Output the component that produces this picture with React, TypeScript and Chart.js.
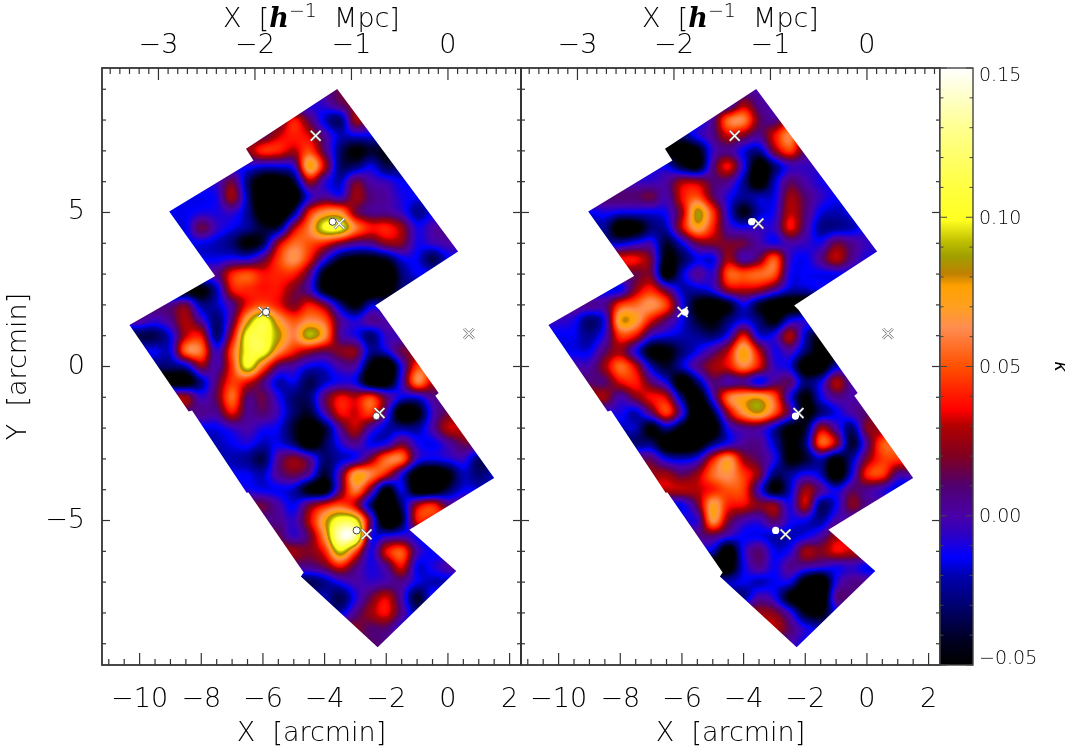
import React, { useEffect, useRef } from "react";
import { Chart, registerables } from "chart.js";
Chart.register(...registerables);

const FONT = '"DejaVu Sans"';
const WEIGHT = "200";

const X_RANGE = [-11.22, 2.37];
const Y_RANGE = [-9.69, 9.69];
const MPC_RANGE = [-3.585, 0.757];
const KAPPA_RANGE = [-0.05, 0.15];

const xMajor = [-10, -8, -6, -4, -2, 0, 2];
const xMinor = [-11, -10.5, -9.5, -9, -8.5, -7.5, -7, -6.5, -5.5, -5, -4.5, -3.5, -3, -2.5, -1.5, -1, -0.5, 0.5, 1, 1.5];
const yMajor = [-5, 0, 5];
const yMinor = [-9, -8, -7, -6, -4, -3, -2, -1, 1, 2, 3, 4, 6, 7, 8, 9];
const mpcMajor = [-3, -2, -1, 0];
const mpcMinor = [-3.5, -3.4, -3.3, -3.2, -3.1, -2.9, -2.8, -2.7, -2.6, -2.5, -2.4, -2.3, -2.2, -2.1, -1.9, -1.8, -1.7, -1.6, -1.5, -1.4, -1.3, -1.2, -1.1, -0.9, -0.8, -0.7, -0.6, -0.5, -0.4, -0.3, -0.2, -0.1, 0.1, 0.2, 0.3, 0.4, 0.5, 0.6, 0.7];
const kappaTicks = [-0.05, 0.0, 0.05, 0.1, 0.15];
const kappaTickLabels = ["\u22120.05", "0.00", "0.05", "0.10", "0.15"];
const kappaMinor = [-0.04, -0.03, -0.02, -0.01, 0.01, 0.02, 0.03, 0.04, 0.06, 0.07, 0.08, 0.09, 0.11, 0.12, 0.13, 0.14];

// colour table: kappa (in 0.01) and the colour at that level
const cmapLevels = [-5, -4.2, -3, -2, -1.4, -0.56, 0, 1, 2, 3, 3.55, 4.15, 5, 6.3, 7, 7.7, 8.1, 8.7, 9.2, 9.9, 11, 13, 15];
const cmapColors = [
  [0, 0, 0], [0, 0, 32], [0, 0, 112], [0, 0, 176], [0, 0, 255], [48, 0, 192], [74, 0, 168], [80, 0, 112], [128, 0, 32], [176, 0, 0],
  [255, 0, 0], [255, 32, 0], [255, 80, 0], [255, 140, 80], [255, 160, 32], [255, 160, 0], [192, 128, 0], [160, 160, 0], [192, 192, 0], [255, 255, 32],
  [255, 255, 64], [255, 255, 144], [255, 255, 255],
];

const footprintX = [-3.59, 0.33, -2.36, -2.22, -0.3, -0.41, 1.5, -1.25, 0.27, -2.28, -4.77, -4.68, -6.47, -6.53, -8.3, -8.41, -10.33, -7.55, -9.04, -6.31, -6.55];
const footprintY = [9.01, 3.73, 1.98, 1.84, -0.86, -0.95, -3.62, -5.3, -6.64, -9.11, -6.82, -6.69, -4.09, -4.1, -1.43, -1.46, 1.35, 2.94, 5.03, 6.69, 7.07];

const crossX = [-4.29, -3.52, -5.98, 0.68, -2.22, -2.64];
const crossY = [7.49, 4.64, 1.77, 1.07, -1.51, -5.45];
const circleX = [-3.74, -5.9, -2.32, -2.96];
const circleY = [4.7, 1.77, -1.61, -5.32];

// each row: y, x of first value, then kappa (in 0.01) every 0.5 arcmin
const kappaLeft = [
  [9, -4.5, 0, 0.5, 1.5, 1],
  [8.5, -4.5, -1, -0.5, 1, 2],
  [8, -5.5, 0.8, 3.8, 1.2, -1.8, -3, 2.5, 1],
  [7.5, -6, 1, 3, 4, 3.2, 0.3, -2, -1.5, -1.5],
  [7, -6.5, 2.2, 4.2, 4, 2.8, 4.8, 1, -3, -5, -4, -4.5],
  [6.5, -6.5, -1, -1.5, -1.5, -0.5, 7.5, 3, -3, -3, -1.5, -3.5, -3],
  [6, -7.5, -0.5, 1.5, -3, -6, -6, -4, 2.5, -0.5, -2, 1.5, 0, -0.5, -1.5],
  [5.5, -8, -1.5, -1, 2.5, -2.5, -7, -7, -6, -1, 0.5, -0.5, 2.5, 0.8, 0.2, -1, -1.5],
  [5, -9, -1.5, -1.5, -1, -1, -0.5, -2.5, -6, -7, -3, 3.8, 6.5, 6.5, 2, 0.5, 0.5, -0.5, -2.5, -1.5],
  [4.5, -8.5, -1.5, 1.5, -0.5, -1.5, -2.5, -4, -3.5, 2.5, 6, 10, 10.2, 6, 3.8, 4, 2.5, -1, 0, 0.5],
  [4, -8, -1.5, -2, -3, -5, -3.5, 2.5, 5.5, 5, 4, 2, 0.5, 0.5, 2.2, 2, -1, -0.5, 0],
  [3.5, -7.5, -1.5, -1, -1, 1, 4.5, 6.5, 4, -0.5, -4, -5, -5, -4, -1.5, -1.5, -3.5, -1.5],
  [3, -7.5, 0.5, 4, 5, 3.8, 4.2, 4, 1, -5, -7, -7, -7, -7, -3, -1.5],
  [2.5, -8, -5, -2, 3.6, 4.2, 3.8, 3.8, 2, 0, -5, -7, -7, -7, -6, -3],
  [2, -9, 0.5, 1.5, -2.5, -2, 0.5, 3.8, 5, 3.8, 2, 3.8, 1.8, -2.5, -5, -2, -2],
  [1.5, -10, 0.3, -0.5, 0.5, 2.8, 0, -3, 1, 7.5, 10.8, 7, 5, 6.2, 5.2, 0.5, -1, 0.5, 0],
  [1, -9.5, -3.5, -1.5, 3, 3.5, -3, 3, 10.5, 11, 8.5, 6, 9, 6.5, 0.5, -1, -3, -0.5],
  [0.5, -9, -1.5, 5.5, 5.5, -0.5, 5, 10.5, 10.8, 6.5, 4, 2.5, 1.5, 2, 2, -2.5, -1.5, 1.5],
  [0, -9, -3, -2, 2, 0, 4.5, 10, 5.5, 1, 0, -1.5, -1.5, 0, 0, -5, -7, -1, 4.5],
  [-0.5, -8.5, -5.5, -2.5, 1, 4.5, 3.6, 1, -2, -1.5, -3.5, -2, -1, -1.5, -6, -6, -0.5, 6, 3],
  [-1, -8.5, 2.5, -0.5, 1.5, 5.5, 1, 1.5, -1, -3, -3, 1, 3.6, 3, 4.5, 1, -1.5, -1.5, 0.5],
  [-1.5, -8, 0.5, 0.5, 3.6, 0.5, 1, -0.5, -3, -4, 0, 3.6, 3.2, 4.5, 0, -6, -5, -0.5, 1.5],
  [-2, -7.5, -1.5, -0.5, 0, -1, -1.5, -4, -6, -4, 0.5, 3, 0, -2, -2.5, -2.5, 0, 3],
  [-2.5, -7.5, -2, -1.5, -1, -2, -1.5, -3, -6, -3.5, -1, 0.5, -1.5, -1, 1.5, -1, -1.5, 0, 1.5],
  [-3, -7, -2, -2.5, -3.5, 0.5, 2.2, 0.5, -3, -2, -1, 2, 5.5, 5.5, -0.5, -1.5, -1, -0.5, -3],
  [-3.5, -6.5, -1.5, -2, 0.5, 1.5, 0, -4, 0.5, 7, 6, 3.5, -1, -6, -7, -5, -2, -3, -2],
  [-4, -6.5, -1, -1.5, -1.5, -2, -5, -5.5, 1, 6, 1.5, -5, -1.5, -6, -6, -3.5, -1.5],
  [-4.5, -6, 1.5, 0, -1.5, 1.5, 3.6, 5, 3, -3, -7, -3, 2.5, 4, 1],
  [-5, -5.5, 0.5, -0.5, 3, 7.5, 11, 10, 1, -7, -4, 3.6],
  [-5.5, -5.5, 1.5, -0.5, 1.5, 6.5, 14, 13, -0.5, -1, -0.5, -1],
  [-6, -5, 2.5, 2, 4, 9.5, 5, -1, 3.5, 5, 0, -1.5],
  [-6.5, -4.5, 0.5, 1.5, 3.6, 1, -1, 0.5, 3.5, -1.5, -1, 0],
  [-7, -4.5, -3.5, -2.5, -1, 0, -0.5, 0, 0.5, -1.5, -2],
  [-7.5, -4, -2, -3.5, -1, 1.5, 3.2, 0, -4, -1],
  [-8, -3.5, -2, 0.5, 2.5, 3.6, 0.5, -2.5],
  [-8.5, -3, 2, 1, 1, -1],
  [-9, -2.5, 1.2, 0.5],
];

const kappaRight = [
  [9, -3.5, 0],
  [8.5, -4.5, -0.5, 2.6, 0.5, 0],
  [8, -5.5, -1.5, 0.5, 5.5, 6, 1.5, 0.5, 3],
  [7.5, -6, -3, -1, 0.5, 3.2, 2, 0.5, 3.5, 6, 1],
  [7, -6.5, -5, -6, -5, -0.5, 0.5, -1.5, -2.5, 2, 4.5, 1],
  [6.5, -6.5, -1.5, -4, -5, 0.5, 3.6, -1, -6, -3, -0.5, -0.5, -0.5],
  [6, -7.5, -0.5, -0.5, 0.2, 2.5, 2.5, 1, 0.5, -2.5, -6, -2, 1, 0, -1],
  [5.5, -8, 1, 1, 1.5, 0, 3.6, 5, 1.5, -1, -2.5, -2, -1.5, 2.5, 1, -0.5, -1.4],
  [5, -9, -1.5, -1, -1.5, -1.5, -1.5, -1, 2.5, 8.5, 4.5, -1, -4.5, -2, -1, 3, 1, -1.5, -2, -1.5],
  [4.5, -8.5, -2.5, -6, -5.5, -3, -2, 3, 7, 4, 0, -1, -0.5, -0.5, 3.6, 0.5, -2.5, -2.5, -2, -1],
  [4, -8, -2, -1, -0.5, -4, -1.5, 1.5, 2, 1.8, 1.5, 0, -1, 0, -0.5, -1, 1.5, 0.5, -0.5],
  [3.5, -7.5, 3.6, 1.5, -5, -3.5, -1.5, -1.5, 2.5, 0, 1.5, 5, -0.5, -1.4, 0.5, 3, 0.5, -1],
  [3, -7.5, 1.5, 1.5, -5.5, -2, 0.3, -0.5, 5, 5, 5.5, 5, -1, -1.4, -1.5, -1.4],
  [2.5, -8, -1.4, 2.3, 4, 1, -2, -2, -1, 2.5, 3, 2.5, 0.5, -2, -2, -1.5],
  [2, -9, 0.5, 0.5, 4.5, 5.5, 6.5, 4.5, -1, -5, -6, -4.5, -1.4, -4, -6, -6],
  [1.5, -10, -0.5, -1, -3, -1, 7.5, 7, 3.6, 1, -1.4, -4, -5, -3, -1.5, -3, -5, -1.5, -1],
  [1, -9.5, -1.5, -2.5, -0.5, 4.5, 3.6, -0.5, -1.5, -2, -2.5, -3, -1, 3.6, -1.4, -1, 2.8, -2, -5],
  [0.5, -9, -1.5, 1, 2.5, -1, -5, -5, -3, -1.4, 0.5, 3, 7.5, 3, -1, 0, -3, -5.5],
  [0, -9, 0, 2.5, 5.5, 3, -2, -4, -2, 0.5, 2.5, 3.5, 6, 3.5, -0.5, -1.5, -6, -6, -2],
  [-0.5, -8.5, 1, 3.5, 4, 1, -1.5, -6, -3, 0.8, 0, 0.5, -1.5, 0.5, 1, -3, -1.5, 2.8, 0],
  [-1, -8.5, 2.5, 0, 2, 3.6, 3, -3, -6, -0.5, 5.5, 7, 7.5, 5, -1, -5, -1.5, 0.5, 0],
  [-1.5, -8, -1, -2, 1, 4.5, -0.5, -7, -4, 2.5, 6.5, 8, 5, 0.5, -5, -3, -1.5, 0, 1],
  [-2, -7.5, -2, -5, -2.5, -5, -7, -6, -1, 0.5, 0.5, -2, -5, -4, 2.5, 0, -3, 2],
  [-2.5, -7, -3, -6, -7, -6, -3, -1, 0.3, 0.5, -2, -5, -3, 5, 2.5, -4, 0.5, 5],
  [-3, -7, 1, -1.5, -2, -1, 3.6, 6.5, 2.5, 1, -1, -5, -4, -2, -5, -2.5, 2, 4.5, 4.5],
  [-3.5, -6.5, 2.5, 1.2, 2.5, 5.5, 6.5, 4.5, 2, -3, -2.5, -1, -2, -6, -1.5, 4, 4.5, 0.5],
  [-4, -6.5, 3, 3, 3, 4, 5, 4.5, -0.5, -5, -2, 2.5, 0.5, -1.4, 1, 0.5, -0.5, -2],
  [-4.5, -6, -1.4, 1.5, 7, 4, 3.5, 2, 2.2, -1, 3, -3, -1.4, 2, 0.5],
  [-5, -5.5, -0.5, 6.5, 2, 0, -0.5, 1.2, -1, -1.4, -2.5, 0],
  [-5.5, -5.5, 0.5, 1, -0.5, -1.4, -1.5, -2, -2, -1.4, 0, 2.5],
  [-6, -5, -2, -6, -1, 1, -1.5, -1, 2.5, 2, 3.5, 3],
  [-6.5, -4.5, -6, -1.5, 0.5, -1.2, 0.5, 0, -0.5, -1, -0.5, -1.5],
  [-7, -4.5, -2, -1.5, -2, -1.5, -1.5, -5.5, -7, -1, 0.5],
  [-7.5, -4, -2.5, 0, -1, -5, -7, -7, 0.5, 0.5],
  [-8, -3.5, 2.5, 2, -0.5, -4.5, -5, -1.5],
  [-8.5, -3, 3, 1, -1, -2],
  [-9, -2.5, 0, -1.4],
];

const GRID_X0 = -10.5;
const GRID_STEP = 0.5;
const GRID_COLS = 26;

function cellsOf(rows: number[][]) {
  const out: { x: number; y: number; v: number }[] = [];
  rows.forEach((r) => {
    for (let i = 2; i < r.length; i++) out.push({ x: r[1] + (i - 2) * GRID_STEP, y: r[0], v: r[i] });
  });
  return out;
}

function matrixOf(rows: number[][]) {
  return rows.map((r) => {
    const line = new Array(GRID_COLS).fill(0);
    const first = Math.round((r[1] - GRID_X0) / GRID_STEP);
    const n = r.length - 2;
    for (let i = 0; i < GRID_COLS; i++) {
      const k = Math.min(n - 1, Math.max(0, i - first));
      line[i] = r[k + 2];
    }
    return line;
  });
}

function cm(a: number, b: number, c: number, d: number, t: number) {
  return 0.5 * (2 * b + (c - a) * t + (2 * a - 5 * b + 4 * c - d) * t * t + (3 * b - a - 3 * c + d) * t * t * t);
}

function colorAt(v: number) {
  const L = cmapLevels;
  if (v <= L[0]) return cmapColors[0];
  if (v >= L[L.length - 1]) return cmapColors[L.length - 1];
  let i = 0;
  while (L[i + 1] < v) i++;
  const t = (v - L[i]) / (L[i + 1] - L[i]);
  const a = cmapColors[i];
  const b = cmapColors[i + 1];
  return [a[0] + (b[0] - a[0]) * t, a[1] + (b[1] - a[1]) * t, a[2] + (b[2] - a[2]) * t];
}

const fieldPlugin = {
  id: "field",
  beforeDatasetsDraw(chart: any, _a: any, opts: any) {
    if (!opts.rows) return;
    const { left, top, right, bottom } = chart.chartArea;
    const xs = chart.scales.x;
    const ys = chart.scales.y;
    const w = Math.round(right - left);
    const h = Math.round(bottom - top);
    const off = document.createElement("canvas");
    off.width = w;
    off.height = h;
    const octx = off.getContext("2d")!;
    const img = octx.createImageData(w, h);
    const M = matrixOf(opts.rows);
    const y0 = opts.rows[0][0];
    const nr = M.length;
    const get = (j: number, i: number) => M[Math.max(0, Math.min(nr - 1, j))][Math.max(0, Math.min(GRID_COLS - 1, i))];
    for (let py = 0; py < h; py++) {
      const gy = (y0 - ys.getValueForPixel(top + py + 0.5)) / GRID_STEP;
      const j = Math.floor(gy);
      const ty = gy - j;
      for (let px = 0; px < w; px++) {
        const gx = (xs.getValueForPixel(left + px + 0.5) - GRID_X0) / GRID_STEP;
        const i = Math.floor(gx);
        const tx = gx - i;
        const r0 = cm(get(j - 1, i - 1), get(j - 1, i), get(j - 1, i + 1), get(j - 1, i + 2), tx);
        const r1 = cm(get(j, i - 1), get(j, i), get(j, i + 1), get(j, i + 2), tx);
        const r2 = cm(get(j + 1, i - 1), get(j + 1, i), get(j + 1, i + 1), get(j + 1, i + 2), tx);
        const r3 = cm(get(j + 2, i - 1), get(j + 2, i), get(j + 2, i + 1), get(j + 2, i + 2), tx);
        const c = colorAt(cm(r0, r1, r2, r3, ty));
        const o = (py * w + px) * 4;
        img.data[o] = c[0];
        img.data[o + 1] = c[1];
        img.data[o + 2] = c[2];
        img.data[o + 3] = 255;
      }
    }
    octx.putImageData(img, 0, 0);
    const ctx = chart.ctx;
    ctx.save();
    ctx.beginPath();
    footprintX.forEach((x, k) => {
      const X = xs.getPixelForValue(x);
      const Y = ys.getPixelForValue(footprintY[k]);
      if (k === 0) ctx.moveTo(X, Y);
      else ctx.lineTo(X, Y);
    });
    ctx.closePath();
    ctx.clip();
    ctx.filter = "blur(0.7px)";
    ctx.drawImage(off, left, top);
    ctx.filter = "none";
    ctx.restore();
  },
};

function tick(ctx: any, x0: number, y0: number, x1: number, y1: number) {
  ctx.beginPath();
  ctx.moveTo(x0, y0);
  ctx.lineTo(x1, y1);
  ctx.stroke();
}

const framePlugin = {
  id: "frame",
  afterDatasetsDraw(chart: any, _a: any, opts: any) {
    if (!opts.panel) return;
    const { left, top, right, bottom } = chart.chartArea;
    const ctx = chart.ctx;
    const { x, xTop, y } = chart.scales;
    ctx.save();
    ctx.strokeStyle = "#333";
    ctx.lineWidth = 1.2;
    xMajor.forEach((v) => tick(ctx, x.getPixelForValue(v), bottom, x.getPixelForValue(v), bottom - 12));
    xMinor.forEach((v) => tick(ctx, x.getPixelForValue(v), bottom, x.getPixelForValue(v), bottom - 6));
    mpcMajor.forEach((v) => tick(ctx, xTop.getPixelForValue(v), top, xTop.getPixelForValue(v), top + 12));
    mpcMinor.forEach((v) => tick(ctx, xTop.getPixelForValue(v), top, xTop.getPixelForValue(v), top + 6));
    yMajor.forEach((v) => {
      const p = y.getPixelForValue(v);
      tick(ctx, left, p, left + 8, p);
      tick(ctx, right, p, right - 8, p);
    });
    yMinor.forEach((v) => {
      const p = y.getPixelForValue(v);
      tick(ctx, left, p, left + 4, p);
      tick(ctx, right, p, right - 4, p);
    });
    ctx.lineWidth = 1.8;
    ctx.strokeRect(left, top, right - left, bottom - top);

    // top axis title with its italic h and raised exponent
    const parts: [string, string, number][] = [
      ["X  [", `${WEIGHT} 27px ${FONT}`, 0],
      ["h", 'italic bold 27px "DejaVu Serif"', 0],
      ["\u22121", `${WEIGHT} 19px ${FONT}`, -10],
      ["  Mpc]", `${WEIGHT} 27px ${FONT}`, 0],
    ];
    let total = 0;
    parts.forEach((p) => {
      ctx.font = p[1];
      total += ctx.measureText(p[0]).width;
    });
    let cx = (left + right) / 2 - total / 2;
    ctx.fillStyle = "#000";
    ctx.textAlign = "left";
    ctx.textBaseline = "alphabetic";
    parts.forEach((p) => {
      ctx.font = p[1];
      ctx.fillText(p[0], cx, 27 + p[2]);
      cx += ctx.measureText(p[0]).width;
    });
    ctx.restore();
  },
};

const colorbarPlugin = {
  id: "colorbar",
  beforeDatasetsDraw(chart: any, _a: any, opts: any) {
    if (!opts.on) return;
    const { left, top, right, bottom } = chart.chartArea;
    const ctx = chart.ctx;
    const y = chart.scales.y;
    for (let p = Math.floor(top); p < bottom; p++) {
      const c = colorAt(y.getValueForPixel(p + 0.5) * 100);
      ctx.fillStyle = `rgb(${c[0]},${c[1]},${c[2]})`;
      ctx.fillRect(left, p, right - left, 1);
    }
  },
  afterDatasetsDraw(chart: any, _a: any, opts: any) {
    if (!opts.on) return;
    const { left, top, right, bottom } = chart.chartArea;
    const ctx = chart.ctx;
    const y = chart.scales.y;
    ctx.save();
    ctx.strokeStyle = "#444";
    ctx.lineWidth = 1;
    kappaMinor.forEach((v) => {
      const p = y.getPixelForValue(v);
      tick(ctx, left, p, left + 3.5, p);
      tick(ctx, right, p, right - 3.5, p);
    });
    kappaTicks.forEach((v) => {
      const p = y.getPixelForValue(v);
      tick(ctx, left, p, left + 7, p);
      tick(ctx, right, p, right - 7, p);
    });
    ctx.lineWidth = 1.4;
    ctx.strokeRect(left, top, right - left, bottom - top);
    ctx.fillStyle = "#000";
    ctx.font = `${WEIGHT} 19px ${FONT}`;
    ctx.textAlign = "left";
    ctx.textBaseline = "middle";
    kappaTicks.forEach((v, i) => {
      let p = y.getPixelForValue(v) + 1.5;
      if (i === kappaTicks.length - 1) p = top + 8;
      if (i === 0) p = bottom - 6;
      ctx.fillText(kappaTickLabels[i], right + 6, p);
    });
    ctx.restore();
  },
};

function minusLabel(v: number) {
  return v < 0 ? "\u2212" + Math.abs(v) : String(v);
}

function panelConfig(rows: number[][], leftEdge: number, rightEdge: number, isLeft: boolean, circleLine: number) {
  const tickFont = { family: FONT, size: 27, weight: WEIGHT };
  return {
    type: "scatter",
    data: {
      datasets: [
        { label: "kappa", data: cellsOf(rows), pointRadius: 0, showLine: false, order: 4 },
        {
          label: "x outline",
          data: crossX.map((x, i) => ({ x, y: crossY[i] })),
          pointStyle: "crossRot",
          pointRadius: 7,
          borderColor: "#666",
          pointBorderWidth: 2.6,
          borderWidth: 2.6,
          showLine: false,
          order: 3,
        },
        {
          label: "x",
          data: crossX.map((x, i) => ({ x, y: crossY[i] })),
          pointStyle: "crossRot",
          pointRadius: 7,
          borderColor: "#fff",
          pointBorderWidth: 1.4,
          borderWidth: 1.4,
          showLine: false,
          order: 2,
        },
        {
          label: "circle",
          data: circleX.map((x, i) => ({ x, y: circleY[i] })),
          pointStyle: "circle",
          pointRadius: 3.6,
          backgroundColor: "#fff",
          borderColor: "#444",
          pointBorderWidth: circleLine,
          borderWidth: circleLine,
          showLine: false,
          order: 1,
        },
      ],
    },
    options: {
      responsive: false,
      animation: false,
      events: [],
      layout: { padding: { left: 0, top: 0, bottom: 0, right: 1070 - rightEdge } },
      plugins: {
        legend: { display: false },
        tooltip: { enabled: false },
        field: { rows },
        frame: { panel: true },
      },
      scales: {
        x: {
          type: "linear",
          position: "bottom",
          min: X_RANGE[0],
          max: X_RANGE[1],
          afterFit: (s: any) => { s.height = 85; },
          afterBuildTicks: (s: any) => { s.ticks = xMajor.map((value) => ({ value })); },
          grid: { display: false },
          border: { display: false },
          ticks: { autoSkip: false, maxRotation: 0, padding: 11, color: "#000", font: tickFont, callback: (v: number) => minusLabel(v) },
          title: { display: true, text: "X  [arcmin]", color: "#000", font: tickFont, padding: { top: 0, bottom: 0 } },
        },
        xTop: {
          type: "linear",
          axis: "x",
          position: "top",
          min: MPC_RANGE[0],
          max: MPC_RANGE[1],
          afterFit: (s: any) => { s.height = 68; },
          afterBuildTicks: (s: any) => { s.ticks = mpcMajor.map((value) => ({ value })); },
          grid: { display: false },
          border: { display: false },
          ticks: { autoSkip: false, maxRotation: 0, padding: -2, color: "#000", font: tickFont, callback: (v: number) => minusLabel(v) },
        },
        y: {
          type: "linear",
          position: "left",
          min: Y_RANGE[0],
          max: Y_RANGE[1],
          afterFit: (s: any) => { s.width = leftEdge; },
          afterBuildTicks: (s: any) => { s.ticks = yMajor.map((value) => ({ value })); },
          grid: { display: false },
          border: { display: false },
          ticks: { display: isLeft, autoSkip: false, padding: 9, color: "#000", font: tickFont, callback: (v: number) => minusLabel(v) },
          title: { display: isLeft, text: "Y  [arcmin]", color: "#000", font: tickFont, padding: { top: 3, bottom: 0 } },
        },
      },
    },
  };
}

function colorbarConfig() {
  return {
    type: "scatter",
    data: { datasets: [{ label: "kappa scale", data: cmapLevels.map((v) => ({ x: 0, y: v / 100 })), pointRadius: 0 }] },
    options: {
      responsive: false,
      animation: false,
      events: [],
      layout: { padding: { left: 940, top: 68, bottom: 85, right: 0 } },
      plugins: { legend: { display: false }, tooltip: { enabled: false }, colorbar: { on: true } },
      scales: {
        x: { type: "linear", display: false, min: 0, max: 1 },
        y: {
          type: "linear",
          position: "right",
          min: KAPPA_RANGE[0],
          max: KAPPA_RANGE[1],
          afterFit: (s: any) => { s.width = 97; },
          afterBuildTicks: (s: any) => { s.ticks = kappaTicks.map((value) => ({ value })); },
          grid: { display: false },
          border: { display: false },
          ticks: { display: false, callback: (_v: number, i: number) => kappaTickLabels[i] },
          title: { display: true, text: "\u03ba", color: "#000", font: { family: FONT, size: 18, style: "italic" }, padding: { top: 0, bottom: 0 } },
        },
      },
    },
  };
}

const canvasStyle: React.CSSProperties = { position: "absolute", left: 0, top: 0, width: 1070, height: 750 };

export default function App() {
  const a = useRef<HTMLCanvasElement>(null);
  const b = useRef<HTMLCanvasElement>(null);
  const c = useRef<HTMLCanvasElement>(null);
  useEffect(() => {
    const charts = [
      new Chart(a.current as any, { ...(panelConfig(kappaLeft, 102, 521, true, 1) as any), plugins: [fieldPlugin, framePlugin] }),
      new Chart(b.current as any, { ...(panelConfig(kappaRight, 521, 940, false, 0) as any), plugins: [fieldPlugin, framePlugin] }),
      new Chart(c.current as any, { ...(colorbarConfig() as any), plugins: [colorbarPlugin] }),
    ];
    return () => charts.forEach((ch) => ch.destroy());
  }, []);
  return (
    <div style={{ position: "absolute", left: 0, top: 0, width: 1070, height: 750, background: "#fff" }}>
      <canvas ref={a} width={1070} height={750} style={canvasStyle} />
      <canvas ref={b} width={1070} height={750} style={canvasStyle} />
      <canvas ref={c} width={1070} height={750} style={canvasStyle} />
    </div>
  );
}
